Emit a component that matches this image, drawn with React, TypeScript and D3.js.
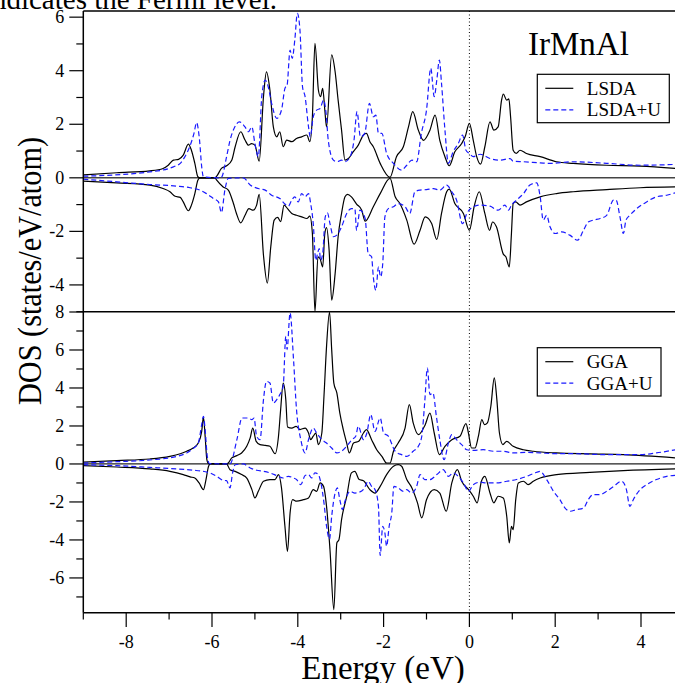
import React from 'react';
import * as d3 from 'd3';

type P = [number, number];

// ---- Top panel: LSDA (black) and LSDA+U (blue), spin up (positive) / down (negative)
const lsdaUp: P[] = [
  [-9.0, 0.11], [-8.22, 0.19], [-7.45, 0.26], [-7.14, 0.35], [-7.02, 0.47], [-6.9, 0.66], [-6.78, 0.69],
  [-6.67, 0.85], [-6.55, 1.26], [-6.48, 1.03], [-6.4, 0.54], [-6.33, 0.04], [-6.28, 0], [-5.93, 0],
  [-5.89, 0.06], [-5.78, 0.35], [-5.66, 0.45], [-5.54, 0.66], [-5.46, 1.16], [-5.33, 1.72], [-5.23, 1.41],
  [-5.15, 1.22], [-5.08, 1.28], [-5.0, 1.22], [-4.9, 0.62], [-4.8, 3.03], [-4.73, 3.96], [-4.65, 3.28],
  [-4.57, 1.9], [-4.49, 1.53], [-4.42, 1.72], [-4.34, 1.16], [-4.26, 1.41], [-4.14, 1.35], [-4.03, 1.47],
  [-3.91, 1.53], [-3.79, 1.6], [-3.72, 1.35], [-3.66, 2.28], [-3.6, 5.02], [-3.52, 3.28], [-3.47, 3.03],
  [-3.42, 3.34], [-3.37, 2.53], [-3.33, 1.9], [-3.21, 4.59], [-3.13, 3.96], [-3.06, 2.9], [-2.98, 1.78],
  [-2.9, 0.66], [-2.82, 0.72], [-2.71, 0.97], [-2.59, 1.22], [-2.47, 1.6], [-2.4, 1.66], [-2.32, 1.35],
  [-2.24, 1.16], [-2.08, 0.54], [-1.85, 0.02], [-1.7, 0.79], [-1.54, 1.16], [-1.42, 1.9], [-1.32, 2.47],
  [-1.19, 1.78], [-1.07, 1.4], [-0.92, 1.78], [-0.8, 2.34], [-0.69, 1.4], [-0.57, 0.79], [-0.47, 0.45],
  [-0.34, 0.97], [-0.18, 1.28], [-0.1, 1.53], [0.0, 2.03], [0.09, 1.4], [0.17, 0.79], [0.26, 0.51],
  [0.36, 1.16], [0.48, 2.09], [0.57, 1.78], [0.67, 1.9], [0.75, 2.9], [0.79, 3.13], [0.87, 2.9],
  [0.92, 2.95], [0.96, 2.28], [1.02, 1.03], [1.09, 0.91], [1.18, 1.03], [1.33, 0.91], [1.65, 0.79],
  [2.03, 0.6], [2.42, 0.54], [3.2, 0.47], [3.98, 0.44], [4.8, 0.35],
];
const lsdaDown: P[] = [
  [-9.0, -0.12], [-8.22, -0.19], [-7.45, -0.27], [-7.14, -0.4], [-6.98, -0.52], [-6.86, -0.69], [-6.74, -0.73],
  [-6.67, -0.9], [-6.55, -1.23], [-6.48, -1.02], [-6.4, -0.59], [-6.33, -0.09], [-6.28, 0], [-5.93, 0],
  [-5.89, -0.09], [-5.74, -0.34], [-5.62, -0.46], [-5.5, -0.96], [-5.43, -1.33], [-5.33, -1.68], [-5.23, -1.4],
  [-5.14, -1.15], [-5.04, -1.21], [-4.96, -1.02], [-4.9, -0.62], [-4.8, -2.89], [-4.71, -3.93], [-4.63, -2.58],
  [-4.55, -1.58], [-4.47, -1.48], [-4.4, -1.64], [-4.32, -1.02], [-4.24, -1.15], [-4.14, -1.33], [-4.03, -1.4],
  [-3.91, -1.46], [-3.79, -1.52], [-3.72, -1.43], [-3.66, -2.08], [-3.6, -5.0], [-3.53, -2.95], [-3.48, -3.02],
  [-3.42, -3.33], [-3.37, -2.08], [-3.33, -1.86], [-3.27, -2.7], [-3.21, -4.57], [-3.13, -3.58], [-3.06, -2.2],
  [-2.98, -1.33], [-2.9, -0.71], [-2.84, -0.62], [-2.75, -0.71], [-2.63, -0.98], [-2.51, -1.21], [-2.43, -1.62],
  [-2.24, -1.08], [-2.08, -0.59], [-1.85, -0.02], [-1.73, -0.71], [-1.62, -0.96], [-1.46, -1.58], [-1.29, -2.48],
  [-1.15, -1.96], [-1.03, -1.46], [-0.88, -1.71], [-0.76, -2.3], [-0.65, -1.33], [-0.53, -0.52], [-0.47, -0.42],
  [-0.34, -0.96], [-0.14, -1.33], [0.0, -1.96], [0.11, -1.08], [0.23, -0.52], [0.36, -1.33], [0.47, -1.96],
  [0.54, -1.65], [0.63, -1.83], [0.79, -2.85], [0.85, -2.95], [0.93, -3.33], [0.98, -2.08], [1.02, -0.96],
  [1.08, -0.9], [1.18, -1.02], [1.33, -0.9], [1.65, -0.71], [2.03, -0.59], [2.42, -0.52], [3.2, -0.44],
  [3.98, -0.37], [4.8, -0.34],
];
const lsdaUUp: P[] = [
  [-9.0, 0.06], [-7.45, 0.22], [-6.9, 0.41], [-6.74, 0.54], [-6.63, 0.79], [-6.52, 1.16], [-6.42, 1.66],
  [-6.36, 2.06], [-6.29, 1.4], [-6.24, 0.41], [-6.2, 0.04], [-5.85, 0], [-5.78, 0.02], [-5.66, 0.79],
  [-5.58, 1.4], [-5.47, 1.9], [-5.36, 2.09], [-5.23, 1.9], [-5.15, 1.72], [-5.07, 1.9], [-5.0, 1.28],
  [-4.92, 0.79], [-4.84, 3.03], [-4.76, 3.65], [-4.69, 3.4], [-4.61, 2.78], [-4.49, 2.22], [-4.38, 2.53],
  [-4.3, 3.34], [-4.25, 3.46], [-4.18, 4.77], [-4.13, 4.46], [-4.07, 5.15], [-4.01, 6.14], [-3.95, 5.52],
  [-3.89, 3.4], [-3.83, 3.03], [-3.75, 1.9], [-3.71, 1.53], [-3.64, 2.28], [-3.56, 2.53], [-3.48, 2.59],
  [-3.4, 2.9], [-3.34, 2.4], [-3.29, 1.4], [-3.17, 0.66], [-3.09, 0.6], [-2.98, 0.66], [-2.9, 0.6],
  [-2.78, 0.79], [-2.69, 1.4], [-2.62, 2.47], [-2.54, 1.53], [-2.44, 1.66], [-2.33, 2.78], [-2.24, 2.28],
  [-2.18, 2.34], [-2.12, 1.66], [-2.04, 1.66], [-1.93, 0.91], [-1.77, 0.54], [-1.58, 0.29], [-1.46, 0.47],
  [-1.34, 0.66], [-1.23, 0.6], [-1.12, 1.66], [-1.0, 2.53], [-0.9, 4.09], [-0.82, 3.03], [-0.76, 3.65],
  [-0.7, 4.4], [-0.65, 3.53], [-0.57, 1.78], [-0.49, 0.54], [-0.38, 0.97], [-0.26, 1.28], [-0.16, 1.6],
  [-0.08, 1.03], [0.0, 0.91], [0.09, 0.79], [0.25, 0.88], [0.48, 0.72], [0.71, 0.66], [0.95, 0.72],
  [1.02, 0.62], [1.26, 0.6], [1.65, 0.56], [1.88, 0.54], [2.42, 0.6], [3.2, 0.54], [3.98, 0.47], [4.8, 0.5],
];
const lsdaUDown: P[] = [
  [-9.0, -0.05], [-8.22, -0.15], [-7.45, -0.25], [-6.82, -0.31], [-6.51, -0.37], [-6.28, -0.46], [-6.13, -0.59],
  [-5.97, -0.77], [-5.85, -0.9], [-5.78, -1.3], [-5.7, -0.46], [-5.62, -0.02], [-5.27, 0], [-5.11, -0.27],
  [-4.92, -0.4], [-4.76, -0.46], [-4.61, -0.65], [-4.42, -0.77], [-4.3, -0.98], [-4.22, -1.06], [-4.14, -0.83],
  [-4.07, -0.71], [-3.99, -0.9], [-3.91, -0.59], [-3.83, -0.71], [-3.75, -0.59], [-3.7, -0.96], [-3.64, -1.71],
  [-3.58, -3.08], [-3.54, -2.83], [-3.5, -2.64], [-3.47, -3.08], [-3.42, -2.83], [-3.36, -1.46], [-3.31, -1.31],
  [-3.25, -1.71], [-3.17, -2.2], [-3.09, -2.14], [-2.98, -1.83], [-2.86, -1.33], [-2.75, -1.15], [-2.67, -1.15],
  [-2.63, -1.96], [-2.55, -1.21], [-2.43, -1.52], [-2.36, -2.83], [-2.28, -2.95], [-2.24, -3.7], [-2.18, -4.2],
  [-2.12, -3.33], [-2.07, -3.7], [-2.02, -3.2], [-1.97, -1.46], [-1.89, -1.15], [-1.77, -1.08], [-1.66, -0.96],
  [-1.5, -1.08], [-1.39, -1.33], [-1.27, -0.52], [-1.15, -0.46], [-1.0, -0.44], [-0.84, -0.4], [-0.69, -0.46],
  [-0.53, -0.27], [-0.41, -0.52], [-0.3, -0.83], [-0.16, -1.71], [-0.06, -1.33], [0.09, -1.08], [0.25, -1.02],
  [0.48, -1.06], [0.67, -1.21], [0.83, -1.02], [0.91, -1.21], [0.98, -1.02], [1.1, -0.83], [1.26, -0.59],
  [1.41, -0.27], [1.57, -0.19], [1.65, -0.71], [1.72, -1.58], [1.8, -1.4], [1.88, -1.83], [2.0, -2.08],
  [2.15, -2.02], [2.34, -2.14], [2.52, -2.33], [2.66, -1.96], [2.77, -1.65], [2.89, -1.58], [3.05, -1.52],
  [3.2, -1.4], [3.36, -0.83], [3.42, -0.83], [3.51, -1.46], [3.59, -2.08], [3.65, -1.58], [3.74, -1.4],
  [3.9, -1.15], [4.13, -0.9], [4.36, -0.71], [4.6, -0.65], [4.8, -0.56],
];

// ---- Bottom panel: GGA (black) and GGA+U (blue)
const ggaUp: P[] = [
  [-9.0, 0.1], [-8.22, 0.18], [-7.45, 0.26], [-6.98, 0.4], [-6.74, 0.54], [-6.59, 0.67], [-6.44, 0.84],
  [-6.32, 1.1], [-6.24, 1.72], [-6.2, 2.47], [-6.16, 1.46], [-6.12, 0.23], [-6.08, 0.02], [-5.66, 0],
  [-5.62, 0.05], [-5.54, 0.32], [-5.42, 0.44], [-5.31, 0.58], [-5.19, 0.93], [-5.11, 1.37], [-5.05, 1.89],
  [-4.97, 1.19], [-4.88, 1.02], [-4.76, 0.98], [-4.65, 0.93], [-4.53, 0.54], [-4.45, 1.46], [-4.4, 2.86],
  [-4.34, 4.26], [-4.28, 3.39], [-4.24, 1.95], [-4.14, 1.89], [-4.04, 1.98], [-3.95, 1.81], [-3.83, 1.89],
  [-3.75, 1.63], [-3.7, 1.28], [-3.64, 1.46], [-3.58, 1.63], [-3.52, 1.02], [-3.44, 1.63], [-3.39, 3.56],
  [-3.33, 6.19], [-3.26, 8.0], [-3.21, 6.02], [-3.16, 4.26], [-3.09, 3.74], [-3.02, 2.68], [-2.94, 1.81],
  [-2.86, 1.1], [-2.8, 0.58], [-2.7, 1.1], [-2.58, 1.19], [-2.47, 1.63], [-2.4, 1.81], [-2.28, 1.28],
  [-2.16, 0.75], [-2.04, 0.4], [-1.93, 0.05], [-1.85, 0.05], [-1.77, 0.67], [-1.66, 1.1], [-1.5, 1.89],
  [-1.4, 3.12], [-1.31, 2.16], [-1.19, 1.54], [-1.03, 2.07], [-0.92, 2.68], [-0.82, 1.63], [-0.7, 0.49],
  [-0.57, 0.93], [-0.41, 1.28], [-0.22, 1.46], [-0.08, 2.12], [-0.02, 1.6], [0.05, 0.84], [0.13, 0.84],
  [0.21, 1.46], [0.29, 2.33], [0.35, 2.07], [0.42, 2.16], [0.5, 3.04], [0.58, 4.53], [0.64, 3.39],
  [0.7, 1.63], [0.78, 1.02], [0.87, 1.19], [1.02, 0.93], [1.26, 0.75], [1.49, 0.67], [2.03, 0.58],
  [2.81, 0.53], [3.59, 0.49], [4.8, 0.32],
];
const ggaDown: P[] = [
  [-9.0, -0.09], [-8.22, -0.16], [-7.45, -0.26], [-6.98, -0.39], [-6.67, -0.56], [-6.51, -0.68], [-6.4, -0.74],
  [-6.3, -1.0], [-6.2, -1.35], [-6.14, -0.82], [-6.08, -0.12], [-6.04, 0], [-5.66, 0], [-5.58, -0.3],
  [-5.46, -0.39], [-5.31, -0.56], [-5.19, -0.74], [-5.07, -1.35], [-5.0, -1.79], [-4.92, -1.44], [-4.8, -0.91],
  [-4.65, -0.82], [-4.53, -0.82], [-4.45, -0.56], [-4.38, -1.26], [-4.3, -3.28], [-4.24, -4.6], [-4.18, -2.58],
  [-4.12, -1.88], [-4.03, -1.96], [-3.87, -1.88], [-3.75, -1.79], [-3.64, -1.35], [-3.56, -1.44], [-3.48, -1.0],
  [-3.4, -1.18], [-3.33, -2.23], [-3.25, -4.5], [-3.16, -7.67], [-3.09, -4.16], [-3.04, -3.98], [-2.98, -2.93],
  [-2.86, -1.7], [-2.75, -0.47], [-2.67, -0.39], [-2.57, -0.82], [-2.47, -0.88], [-2.32, -1.35], [-2.2, -1.53],
  [-2.08, -1.18], [-1.93, -0.56], [-1.77, -0.12], [-1.66, -0.04], [-1.58, -0.12], [-1.46, -0.82], [-1.34, -1.26],
  [-1.21, -2.05], [-1.11, -2.84], [-1.0, -1.88], [-0.82, -1.35], [-0.69, -1.53], [-0.54, -2.49], [-0.41, -1.0],
  [-0.28, -0.3], [-0.18, -0.91], [-0.02, -1.35], [0.09, -1.7], [0.18, -2.05], [0.28, -0.91], [0.36, -0.65],
  [0.48, -1.53], [0.57, -2.05], [0.67, -1.7], [0.79, -1.79], [0.87, -2.75], [0.93, -4.16], [0.98, -3.28],
  [1.02, -3.46], [1.08, -1.88], [1.14, -1.0], [1.26, -0.91], [1.37, -1.09], [1.49, -0.91], [1.65, -0.74],
  [2.03, -0.56], [2.81, -0.44], [3.59, -0.35], [4.8, -0.26],
];
const ggaUUp: P[] = [
  [-9.0, 0.05], [-8.22, 0.12], [-7.45, 0.21], [-6.82, 0.4], [-6.59, 0.58], [-6.44, 0.81], [-6.32, 1.1],
  [-6.24, 2.07], [-6.2, 2.51], [-6.16, 1.81], [-6.11, 0.4], [-6.06, 0.02], [-5.58, 0], [-5.42, 1.28],
  [-5.3, 2.42], [-5.15, 2.42], [-5.07, 2.33], [-5.02, 2.42], [-4.96, 1.46], [-4.88, 1.28], [-4.8, 3.39],
  [-4.73, 4.35], [-4.65, 4.26], [-4.57, 3.21], [-4.49, 3.39], [-4.42, 3.65], [-4.34, 4.09], [-4.28, 6.72],
  [-4.25, 6.02], [-4.18, 7.95], [-4.1, 5.51], [-4.03, 2.86], [-3.93, 1.28], [-3.83, 0.58], [-3.75, 1.28],
  [-3.64, 1.89], [-3.56, 1.63], [-3.44, 1.28], [-3.33, 1.1], [-3.21, 0.84], [-3.09, 0.58], [-2.98, 0.67],
  [-2.86, 0.93], [-2.74, 1.28], [-2.65, 1.46], [-2.59, 1.98], [-2.47, 1.28], [-2.39, 1.63], [-2.3, 2.6],
  [-2.2, 1.72], [-2.08, 2.42], [-2.0, 1.63], [-1.89, 1.46], [-1.73, 0.67], [-1.58, 0.49], [-1.46, 0.4],
  [-1.31, 0.67], [-1.19, 0.93], [-1.11, 1.46], [-1.04, 3.3], [-0.98, 5.05], [-0.92, 3.65], [-0.85, 3.74],
  [-0.77, 2.51], [-0.69, 1.28], [-0.59, 0.23], [-0.49, 1.1], [-0.41, 1.54], [-0.3, 1.28], [-0.18, 1.02],
  [-0.06, 0.75], [0.09, 0.72], [0.32, 0.75], [0.56, 0.67], [0.79, 0.67], [1.02, 0.58], [1.33, 0.61],
  [1.65, 0.58], [2.03, 0.54], [2.42, 0.54], [3.2, 0.49], [3.98, 0.49], [4.36, 0.58], [4.8, 0.75],
];
const ggaUDown: P[] = [
  [-9.0, -0.04], [-8.22, -0.09], [-7.45, -0.18], [-6.82, -0.26], [-6.44, -0.33], [-6.2, -0.39], [-6.05, -0.47],
  [-5.89, -0.65], [-5.74, -0.86], [-5.66, -0.88], [-5.58, -1.26], [-5.52, -0.47], [-5.46, -0.04], [-5.27, 0],
  [-5.11, -0.21], [-4.96, -0.33], [-4.8, -0.39], [-4.65, -0.47], [-4.49, -0.61], [-4.34, -0.74], [-4.22, -0.65],
  [-4.1, -0.74], [-4.03, -0.82], [-3.93, -1.09], [-3.83, -0.61], [-3.75, -0.56], [-3.68, -0.74], [-3.6, -0.47],
  [-3.52, -0.56], [-3.47, -0.91], [-3.39, -2.05], [-3.33, -3.28], [-3.26, -3.95], [-3.21, -2.75], [-3.13, -1.53],
  [-3.08, -1.26], [-3.02, -1.88], [-2.96, -2.4], [-2.9, -1.96], [-2.78, -1.44], [-2.67, -1.53], [-2.57, -1.49],
  [-2.46, -1.32], [-2.36, -0.91], [-2.28, -1.18], [-2.2, -1.35], [-2.12, -2.23], [-2.08, -4.82], [-2.02, -3.28],
  [-1.97, -3.63], [-1.93, -4.33], [-1.87, -3.28], [-1.81, -2.58], [-1.76, -1.18], [-1.66, -1.26], [-1.54, -1.44],
  [-1.46, -1.35], [-1.35, -1.53], [-1.23, -1.18], [-1.15, -0.56], [-1.04, -0.82], [-0.92, -0.82], [-0.76, -0.56],
  [-0.61, -0.3], [-0.49, -0.65], [-0.38, -0.47], [-0.26, -0.65], [-0.14, -1.0], [-0.02, -1.44], [0.09, -1.09],
  [0.25, -0.96], [0.4, -1.0], [0.63, -1.0], [0.87, -0.91], [1.1, -0.82], [1.3, -0.68], [1.49, -0.51],
  [1.65, -0.39], [1.8, -0.82], [1.96, -1.44], [2.11, -1.88], [2.23, -2.32], [2.35, -2.49], [2.5, -2.4],
  [2.66, -2.32], [2.77, -1.88], [2.89, -1.61], [3.04, -1.61], [3.2, -1.44], [3.36, -1.18], [3.55, -0.91],
  [3.66, -1.35], [3.74, -2.23], [3.82, -1.88], [3.98, -1.35], [4.13, -1.09], [4.36, -0.82], [4.6, -0.65],
  [4.8, -0.6],
];

// ---- Ticks and labels
const xMajor = [-8, -6, -4, -2, 0, 2, 4];
const xMinor = [-9, -7, -5, -3, -1, 1, 3];
const topMajor = [-4, -2, 0, 2, 4, 6];
const topMinor = [-5, -3, -1, 1, 3, 5];
const botMajor = [-6, -4, -2, 0, 2, 4, 6, 8];
const botMinor = [-7, -5, -3, -1, 1, 3, 5, 7];
const topLegend = ['LSDA', 'LSDA+U'];
const botLegend = ['GGA', 'GGA+U'];
const titleText = 'IrMnAl';
const xTitle = 'Energy (eV)';
const yTitle = 'DOS (states/eV/atom)';
const captionText = 'indicates the Fermi level.';

const FONT = '"Liberation Serif", "Times New Roman", Times, serif';

export default function App() {
  const W = 675;
  const H = 683;
  const left = 83.3;
  const x = d3.scaleLinear().domain([-9, 5]).range([left, left + 14 * 42.9]);
  const yTop = d3.scaleLinear().domain([-5, 6.23]).range([311.7, 11]);
  const yBot = d3.scaleLinear().domain([-7.83, 8]).range([612.7, 312]);

  const mk = (y: d3.ScaleLinear<number, number>) =>
    d3.line<P>().x((d) => x(d[0])).y((d) => y(d[1])).curve(d3.curveMonotoneX);
  const lt = mk(yTop);
  const lb = mk(yBot);

  const xR = W + 20;
  const blue = '#1a1aff';
  const dash = '5,3';

  const yTicks = (y: d3.ScaleLinear<number, number>, major: number[], minor: number[], key: string) => (
    <g key={key}>
      {major.map((v) => (
        <g key={'M' + v}>
          <line x1={left - 14} x2={left} y1={y(v)} y2={y(v)} stroke="#000" strokeWidth={1.2} />
          <text x={left - 19} y={y(v) + 6} textAnchor="end" fontSize={18} fontFamily={FONT}>
            {v}
          </text>
        </g>
      ))}
      {minor.map((v) => (
        <line key={'m' + v} x1={left - 7} x2={left} y1={y(v)} y2={y(v)} stroke="#000" strokeWidth={1.2} />
      ))}
    </g>
  );

  const legend = (x0: number, y0: number, w: number, h: number, labels: string[]) => (
    <g>
      <rect x={x0} y={y0} width={w} height={h} fill="#fff" stroke="#000" strokeWidth={1.2} />
      <line x1={x0 + 8} x2={x0 + 36} y1={y0 + 14} y2={y0 + 14} stroke="#000" strokeWidth={1.2} />
      <line x1={x0 + 8} x2={x0 + 36} y1={y0 + 35.5} y2={y0 + 35.5} stroke={blue} strokeWidth={1.2} strokeDasharray={dash} />
      <text x={x0 + 49.5} y={y0 + 20.5} fontSize={19} fontFamily={FONT}>{labels[0]}</text>
      <text x={x0 + 49.5} y={y0 + 42} fontSize={19} fontFamily={FONT}>{labels[1]}</text>
    </g>
  );

  return (
    <svg
      width={W}
      height={H}
      viewBox={`0 0 ${W} ${H}`}
      style={{ position: 'absolute', left: 0, top: 0, background: '#fff' }}
    >
      <rect x={0} y={0} width={W} height={H} fill="#fff" />
      <text x={277} y={9} textAnchor="end" fontSize={29} fontFamily={FONT}>{captionText}</text>

      {/* zero lines */}
      <line x1={left} x2={xR} y1={yTop(0)} y2={yTop(0)} stroke="#444" strokeWidth={1.5} />
      <line x1={left} x2={xR} y1={yBot(0)} y2={yBot(0)} stroke="#222" strokeWidth={1.3} />

      {/* Fermi level */}
      <line x1={x(0)} x2={x(0)} y1={11} y2={612.7} stroke="#000" strokeWidth={1} strokeDasharray="1,2.5" />

      {/* curves */}
      <path d={lt(lsdaUp) ?? ''} fill="none" stroke="#000" strokeWidth={1.2} />
      <path d={lt(lsdaDown) ?? ''} fill="none" stroke="#000" strokeWidth={1.2} />
      <path d={lt(lsdaUUp) ?? ''} fill="none" stroke={blue} strokeWidth={1.2} strokeDasharray={dash} />
      <path d={lt(lsdaUDown) ?? ''} fill="none" stroke={blue} strokeWidth={1.2} strokeDasharray={dash} />
      <path d={lb(ggaUp) ?? ''} fill="none" stroke="#000" strokeWidth={1.2} />
      <path d={lb(ggaDown) ?? ''} fill="none" stroke="#000" strokeWidth={1.2} />
      <path d={lb(ggaUUp) ?? ''} fill="none" stroke={blue} strokeWidth={1.2} strokeDasharray={dash} />
      <path d={lb(ggaUDown) ?? ''} fill="none" stroke={blue} strokeWidth={1.2} strokeDasharray={dash} />

      {/* frames */}
      <line x1={left} x2={xR} y1={11} y2={11} stroke="#000" strokeWidth={1.5} />
      <line x1={left} x2={xR} y1={311.8} y2={311.8} stroke="#000" strokeWidth={1.5} />
      <line x1={left} x2={xR} y1={612.7} y2={612.7} stroke="#000" strokeWidth={1.5} />
      <line x1={left} x2={left} y1={11} y2={612.7} stroke="#000" strokeWidth={1.5} />

      {yTicks(yTop, topMajor, topMinor, 'top')}
      {yTicks(yBot, botMajor, botMinor, 'bot')}

      {/* x axis ticks */}
      {xMajor.map((v) => (
        <g key={'xM' + v}>
          <line x1={x(v)} x2={x(v)} y1={612.7} y2={627} stroke="#000" strokeWidth={1.2} />
          <text x={x(v)} y={648} textAnchor="middle" fontSize={18} fontFamily={FONT}>{v}</text>
        </g>
      ))}
      {xMinor.map((v) => (
        <line key={'xm' + v} x1={x(v)} x2={x(v)} y1={612.7} y2={619.5} stroke="#000" strokeWidth={1.2} />
      ))}

      {/* titles */}
      <text x={528} y={55} fontSize={33} fontFamily={FONT}>{titleText}</text>
      <text x={383} y={678.5} textAnchor="middle" fontSize={33} fontFamily={FONT}>{xTitle}</text>
      <text
        transform="translate(41,271) rotate(-90)"
        textAnchor="middle"
        fontSize={33}
        fontFamily={FONT}
        textLength={268}
        lengthAdjust="spacingAndGlyphs"
      >
        {yTitle}
      </text>

      {legend(537.3, 74.3, 132, 48.4, topLegend)}
      {legend(537.3, 347.7, 123.7, 48.3, botLegend)}
    </svg>
  );
}
